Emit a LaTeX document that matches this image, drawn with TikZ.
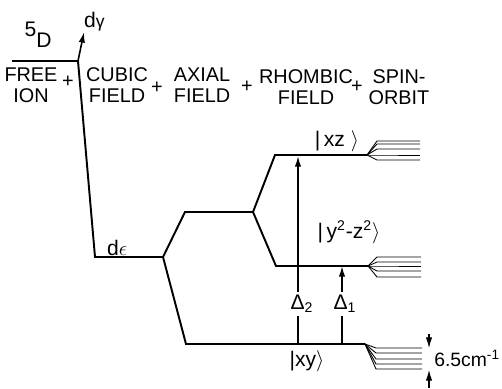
\documentclass[tikz,border=0pt]{standalone}
\usepackage{fontspec}
\setsansfont{Liberation Sans}
\usepackage{tikz}
\usetikzlibrary{positioning, arrows.meta, calc}

\begin{document}
\begin{tikzpicture}[
  x=0.02cm, y=-0.02cm,
  lvl/.style={line width=1.1pt, line join=miter},
  fanline/.style={line width=0.5pt},
  arr/.style={-{Latex[length=6pt, width=3.6pt]}, line width=0.9pt},
  head/.style={font=\sffamily\fontsize{11.3}{11.8}\selectfont, align=center, inner sep=0pt},
  lab/.style={font=\sffamily\fontsize{12}{13}\selectfont, inner sep=1pt},
  gaplab/.style={lab, fill=white, inner sep=2pt},
]
  \useasboundingbox (0,0) rectangle (502,388);

  % Header row
  \node[head] (free) at (31,85) {FREE\\ION};
  \node[head] (p1) at (68,82) {+};
  \node[head] (cubic) at (117,85) {CUBIC\\FIELD};
  \node[head] (p2) at (157,88) {+};
  \node[head] (axial) at (202,85) {AXIAL\\FIELD};
  \node[head] (p3) at (247,87) {+};
  \node[head] (rhombic) at (306,87) {RHOMBIC\\FIELD};
  \node[head] (p4) at (357,87) {+};
  \node[head] (spin) at (399,87) {SPIN-\\ORBIT};

  % Level end points
  \coordinate (freeL) at (12,61);
  \coordinate (freeR) at (78,61);
  \coordinate (dgam) at (84,32);
  \coordinate (depsL) at (95,257);
  \coordinate (depsR) at (163,257);
  \coordinate (upL) at (185,212);
  \coordinate (upR) at (253,212);
  \coordinate (xyL) at (186,344);
  \coordinate (xyR) at (365,344);
  \coordinate (xzL) at (275,155);
  \coordinate (xzR) at (367,155);
  \coordinate (yzL) at (276,266);
  \coordinate (yzR) at (368,266);

  % Levels
  \draw[lvl] (freeL) -- (freeR) -- (depsL) -- (depsR) -- (upL) -- (upR) -- (xzL) -- (xzR);
  \draw[lvl] (depsR) -- (xyL) -- (xyR);
  \draw[lvl] (upR) -- (yzL) -- (yzR);
  \draw[arr] (freeR) -- (dgam);

  % Spin-orbit fans
  \foreach \y in {141,144,149,155,160}
    \draw[fanline] (xzR) -- (377,\y) -- (420,\y);
  \foreach \y in {257,262,266,271,277}
    \draw[fanline] (yzR) -- (377,\y) -- (421,\y);
  \foreach \y in {348,353,359,364,369}
    \draw[fanline] (xyR) -- (376,\y) -- (422,\y);

  % Level labels
  \node[lab] (five) at (38,35) {5\raisebox{-1.0ex}{D}};
  \node[lab, anchor=west] (dgamlab) at (82,22) {d{\fontsize{10}{10}\selectfont γ}};
  \node[lab, anchor=south west] (depslab) at (105,258) {d$\epsilon$};
  \node[lab] (xzlab) at (337,141) {|\,xz\;$\rangle$};
  \node[lab] (yzlab) at (349,232) {|\,y\textsuperscript{2}-z\textsuperscript{2}$\rangle$};
  \node[lab] (xylab) at (307,361) {|xy$\rangle$};

  % Transitions
  \coordinate (d2a) at (298,344);
  \coordinate (d2b) at (298,156);
  \coordinate (d1a) at (342,344);
  \coordinate (d1b) at (342,266);
  \draw[arr] (d2a) -- (d2b);
  \draw[arr] (d1a) -- (d1b);
  \node[gaplab] (delta2) at (302,304) {Δ\textsubscript{2}};
  \node[gaplab] (delta1) at (345,304) {Δ\textsubscript{1}};

  % Splitting marker
  \coordinate (spTop) at (429,334);
  \coordinate (spA) at (429,348);
  \coordinate (spBot) at (429,388);
  \coordinate (spB) at (429,370);
  \draw[arr, line width=0.6pt] (spTop) -- (spA);
  \draw[arr, line width=0.6pt] (spBot) -- (spB);
  \node[lab, anchor=west, inner sep=0pt, font=\sffamily\fontsize{11}{12}\selectfont] (split) at (434,358) {6.5cm\textsuperscript{-1}};
\end{tikzpicture}
\end{document}
